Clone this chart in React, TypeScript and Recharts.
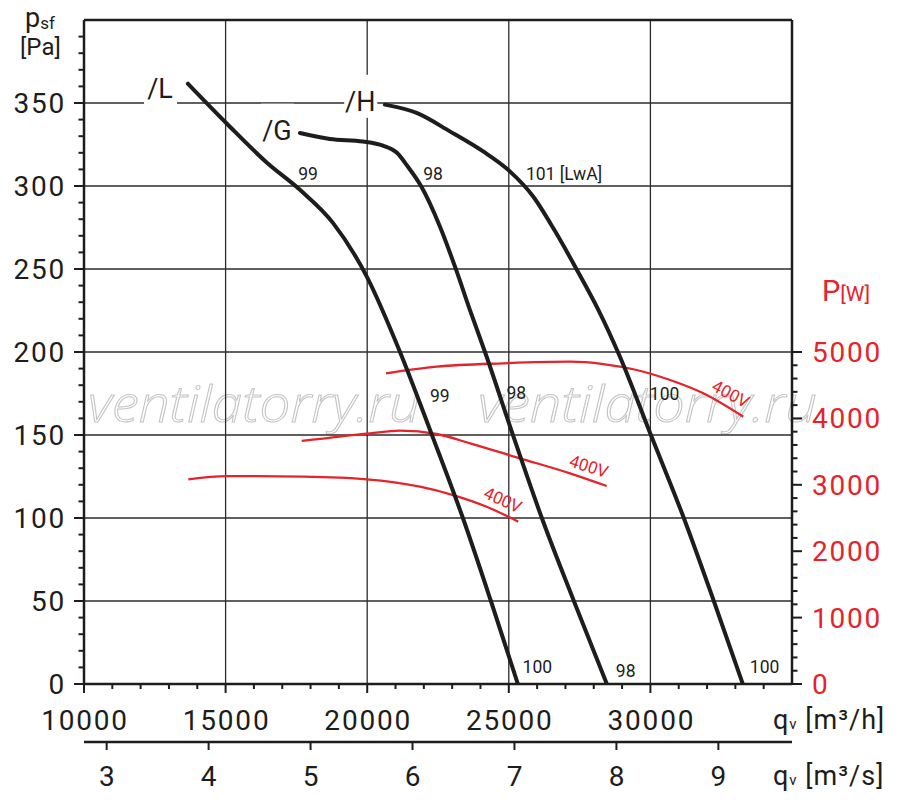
import React from 'react';
import {
  LineChart,
  Line,
  XAxis,
  YAxis,
  CartesianGrid,
  ReferenceLine,
  ReferenceDot,
} from 'recharts';

const FONT = 'Roboto, "DejaVu Sans", sans-serif';
const INK = '#1d1d1b';
const RED = '#e5232b';
const GRID = '#2b2b2b';

// fan curves, q [m3/h] -> psf [Pa]
const curveL = [
  { q: 13671, p: 361.6 },
  { q: 15048, p: 337.5 },
  { q: 16460, p: 314.0 },
  { q: 17625, p: 297.7 },
  { q: 18790, p: 277.8 },
  { q: 19990, p: 245.3 },
  { q: 21155, p: 200.2 },
  { q: 22284, p: 150.1 },
  { q: 23379, p: 100.0 },
  { q: 24368, p: 50.0 },
  { q: 25320, p: 0 },
];

const curveG = [
  { q: 17625, p: 331.9 },
  { q: 18684, p: 328.3 },
  { q: 19849, p: 326.8 },
  { q: 20555, p: 324.3 },
  { q: 21049, p: 320.0 },
  { q: 21437, p: 311.6 },
  { q: 21896, p: 300.1 },
  { q: 22567, p: 275.6 },
  { q: 23132, p: 249.9 },
  { q: 23626, p: 225.4 },
  { q: 24215, p: 197.3 },
  { q: 25144, p: 150.1 },
  { q: 26167, p: 100.0 },
  { q: 27297, p: 50.0 },
  { q: 28462, p: 0 },
];

const curveH = [
  { q: 20625, p: 349.0 },
  { q: 21744, p: 344.0 },
  { q: 22920, p: 332.9 },
  { q: 24095, p: 320.8 },
  { q: 25038, p: 308.8 },
  { q: 25860, p: 293.7 },
  { q: 26626, p: 273.0 },
  { q: 27392, p: 249.9 },
  { q: 28162, p: 225.4 },
  { q: 28921, p: 197.3 },
  { q: 30015, p: 150.1 },
  { q: 31180, p: 100.0 },
  { q: 32239, p: 50.0 },
  { q: 33263, p: 0 },
];

// input power, q [m3/h] -> P [W]
const powerL = [
  { q: 13683, w: 3083 },
  { q: 15039, w: 3132 },
  { q: 17733, w: 3122 },
  { q: 19982, w: 3083 },
  { q: 21864, w: 2971 },
  { q: 23030, w: 2846 },
  { q: 24219, w: 2670 },
  { q: 25335, w: 2444 },
];

const powerG = [
  { q: 17687, w: 3660 },
  { q: 20099, w: 3776 },
  { q: 21158, w: 3815 },
  { q: 22454, w: 3765 },
  { q: 23630, w: 3625 },
  { q: 25395, w: 3399 },
  { q: 27161, w: 3173 },
  { q: 28457, w: 2982 },
];

const powerH = [
  { q: 20664, w: 4679 },
  { q: 22454, w: 4779 },
  { q: 24806, w: 4830 },
  { q: 27161, w: 4854 },
  { q: 28337, w: 4819 },
  { q: 29516, w: 4729 },
  { q: 30695, w: 4578 },
  { q: 31868, w: 4378 },
  { q: 33280, w: 4025 },
];

// annotations (anchor in q / psf units)
const curveTags = [
  { q: 12683, p: 352.9, text: '/L' },
  { q: 16813, p: 327.9, text: '/G' },
  { q: 19754, p: 345.3, text: '/H' },
];

const soundTags = [
  { q: 17566, p: 303.8, text: '99' },
  { q: 21977, p: 303.8, text: '98' },
  { q: 25603, p: 303.8, text: '101 [LwA]' },
  { q: 22214, p: 170.0, text: '99' },
  { q: 24920, p: 171.5, text: '98' },
  { q: 29980, p: 171.2, text: '100' },
  { q: 25486, p: 6.4, text: '100' },
  { q: 28780, p: 4.4, text: '98' },
  { q: 33510, p: 6.4, text: '100' },
];

const voltTags = [
  { q: 24791, p: 110.9, text: '400V', angle: 24 },
  { q: 27827, p: 131.1, text: '400V', angle: 18 },
  { q: 32839, p: 174.8, text: '400V', angle: 28 },
];

const range = (a: number, b: number, s: number) => {
  const out: number[] = [];
  for (let v = a; v <= b; v += s) out.push(v);
  return out;
};

const pressureTicks = range(0, 390, 10);
const pressureLabels = [0, 50, 100, 150, 200, 250, 300, 350];
const flowTicks = range(10000, 34000, 1000);
const flowLabels = [10000, 15000, 20000, 25000, 30000];
const powerTicks = range(0, 5000, 200);
const powerLabels = [0, 1000, 2000, 3000, 4000, 5000];
const flowSecLabels = [3, 4, 5, 6, 7, 8, 9]; // m3/s
const flowSecTicks = flowSecLabels.map((v) => v * 3600); // same axis in m3/h
const gridPressure = [50, 100, 150, 200, 250, 300, 350];
const gridFlow = [15000, 20000, 25000, 30000];

const numStyle = { fontFamily: FONT, fontSize: 28, letterSpacing: '1.8px' };

function PressureTick(props: any) {
  const { x, y, payload } = props;
  const v = payload.value;
  const major = pressureLabels.includes(v);
  return (
    <g>
      <line x1={x - (major ? 10 : 5.5)} y1={y} x2={x} y2={y} stroke={INK} strokeWidth={2} />
      {major && (
        <text x={x - 18} y={y + 10} textAnchor="end" fill={INK} style={numStyle}>
          {v}
        </text>
      )}
    </g>
  );
}

function PowerTick(props: any) {
  const { x, y, payload } = props;
  const v = payload.value;
  const major = powerLabels.includes(v);
  return (
    <g>
      <line x1={x} y1={y} x2={x + (major ? 10 : 5.5)} y2={y} stroke={INK} strokeWidth={2} />
      {major && (
        <text x={x + 20} y={y + 10} textAnchor="start" fill={RED} style={numStyle}>
          {v}
        </text>
      )}
    </g>
  );
}

function FlowTick(props: any) {
  const { x, y, payload } = props;
  const v = payload.value;
  const major = flowLabels.includes(v);
  return (
    <g>
      <line x1={x} y1={y} x2={x} y2={y + (major ? 9 : 5)} stroke={INK} strokeWidth={2} />
      {major && (
        <text x={x + 1} y={y + 46} textAnchor="middle" fill={INK} style={numStyle}>
          {v}
        </text>
      )}
    </g>
  );
}

function FlowSecTick(props: any) {
  const { x, y, payload } = props;
  return (
    <g>
      <line x1={x} y1={y} x2={x} y2={y + 8} stroke={INK} strokeWidth={2} />
      <text x={x + 1} y={y + 44} textAnchor="middle" fill={INK} style={numStyle}>
        {Math.round(payload.value / 3600)}
      </text>
    </g>
  );
}

const center = (p: any) => {
  const vb = p.viewBox || {};
  return [vb.x + (vb.width || 0) / 2, vb.y + (vb.height || 0) / 2];
};

const curveTagLabel = (text: string) => (p: any) => {
  const [cx, cy] = center(p);
  return (
    <g>
      <rect x={cx - 16} y={cy - 36} width={33} height={43} fill="#fff" />
      <text x={cx} y={cy} textAnchor="middle" fill={INK} style={{ fontFamily: FONT, fontSize: 27 }}>
        {text}
      </text>
    </g>
  );
};

const soundTagLabel = (text: string) => (p: any) => {
  const [cx, cy] = center(p);
  return (
    <text x={cx} y={cy} textAnchor="start" fill={INK} style={{ fontFamily: FONT, fontSize: 17.5 }}>
      {text}
    </text>
  );
};

const voltTagLabel = (text: string, angle: number) => (p: any) => {
  const [cx, cy] = center(p);
  return (
    <text
      x={cx}
      y={cy}
      textAnchor="middle"
      dominantBaseline="central"
      transform={`rotate(${angle} ${cx} ${cy})`}
      fill={RED}
      style={{ fontFamily: FONT, fontSize: 17 }}
    >
      {text}
    </text>
  );
};

export default function App() {
  const wm = {
    fontFamily: '"Open Sans", sans-serif',
    fontStyle: 'italic' as const,
    fontWeight: 300,
    fontSize: 50,
  };
  return (
    <div style={{ position: 'absolute', left: 0, top: 0, width: 900, height: 808, background: '#fff' }}>
      <svg width={900} height={808} style={{ position: 'absolute', left: 0, top: 0 }}>
        <text x={88} y={422} textLength={332} lengthAdjust="spacingAndGlyphs" fill="none" stroke="#c4c4c4" strokeWidth={1} style={wm}>
          ventilatorry.ru
        </text>
        <text x={478} y={422} textLength={339} lengthAdjust="spacingAndGlyphs" fill="none" stroke="#c4c4c4" strokeWidth={1} style={wm}>
          ventilatorry.ru
        </text>

        <text x={25} y={27} fill={INK} style={{ fontFamily: FONT, fontSize: 27 }}>
          p
          <tspan dy={2} style={{ fontSize: 17 }}>sf</tspan>
        </text>
        <text x={20} y={55} fill={INK} style={{ fontFamily: FONT, fontSize: 24 }}>
          [Pa]
        </text>

        <text x={822} y={300.5} fill={RED} style={{ fontFamily: FONT, fontSize: 29 }}>
          P<tspan style={{ fontSize: 21 }}>[W]</tspan>
        </text>

        <text x={773} y={728.5} fill={INK} style={{ fontFamily: FONT, fontSize: 27, letterSpacing: '1px' }}>
          q<tspan style={{ fontSize: 15 }}>v</tspan> [m³/h]
        </text>
        <text x={773} y={785} fill={INK} style={{ fontFamily: FONT, fontSize: 27, letterSpacing: '1px' }}>
          q<tspan style={{ fontSize: 15 }}>v</tspan> [m³/s]
        </text>
      </svg>

      <div style={{ position: 'absolute', left: 0, top: 0 }}>
        <LineChart width={900} height={808} margin={{ top: 20, right: 0, bottom: 0, left: 0 }}>
          <CartesianGrid
            stroke={GRID}
            strokeWidth={1.3}
            horizontalValues={gridPressure}
            verticalValues={gridFlow}
          />
          <XAxis
            xAxisId={0}
            dataKey="q"
            type="number"
            domain={[10000, 35000]}
            allowDataOverflow
            ticks={flowTicks}
            interval={0}
            height={58}
            tickSize={0}
            tickMargin={0}
            tickLine={false}
            axisLine={{ stroke: INK, strokeWidth: 2.5 }}
            tick={<FlowTick />}
          />
          <XAxis
            xAxisId={1}
            dataKey="q"
            type="number"
            domain={[10000, 35000]}
            allowDataOverflow
            ticks={flowSecTicks}
            interval={0}
            height={66}
            tickSize={0}
            tickMargin={0}
            tickLine={false}
            axisLine={{ stroke: INK, strokeWidth: 2.5 }}
            tick={<FlowSecTick />}
          />
          <YAxis
            yAxisId={0}
            type="number"
            domain={[0, 400]}
            allowDataOverflow
            ticks={pressureTicks}
            interval={0}
            width={84}
            tickSize={0}
            tickMargin={0}
            tickLine={false}
            axisLine={{ stroke: INK, strokeWidth: 2.5 }}
            tick={<PressureTick />}
          />
          <YAxis
            yAxisId={1}
            orientation="right"
            type="number"
            domain={[0, 10000]}
            allowDataOverflow
            ticks={powerTicks}
            interval={0}
            width={108}
            tickSize={0}
            tickMargin={0}
            tickLine={false}
            axisLine={{ stroke: INK, strokeWidth: 2.5 }}
            tick={<PowerTick />}
          />
          <ReferenceLine yAxisId={0} y={400} stroke={INK} strokeWidth={2.5} />

          {[powerL, powerG, powerH].map((d, i) => (
            <Line
              key={`pw${i}`}
              xAxisId={1}
              yAxisId={1}
              data={d}
              dataKey="w"
              type="monotone"
              stroke={RED}
              strokeWidth={2.3}
              dot={false}
              activeDot={false}
              isAnimationActive={false}
            />
          ))}
          {[curveL, curveG, curveH].map((d, i) => (
            <Line
              key={`ps${i}`}
              xAxisId={0}
              yAxisId={0}
              data={d}
              dataKey="p"
              type="monotone"
              stroke={INK}
              strokeWidth={4}
              strokeLinecap="round"
              dot={false}
              activeDot={false}
              isAnimationActive={false}
            />
          ))}

          {curveTags.map((t) => (
            <ReferenceDot key={t.text} yAxisId={0} x={t.q} y={t.p} r={0} fill="none" stroke="none" ifOverflow="visible" label={curveTagLabel(t.text)} />
          ))}
          {soundTags.map((t, i) => (
            <ReferenceDot key={`s${i}`} yAxisId={0} x={t.q} y={t.p} r={0} fill="none" stroke="none" ifOverflow="visible" label={soundTagLabel(t.text)} />
          ))}
          {voltTags.map((t, i) => (
            <ReferenceDot key={`v${i}`} yAxisId={0} x={t.q} y={t.p} r={0} fill="none" stroke="none" ifOverflow="visible" label={voltTagLabel(t.text, t.angle)} />
          ))}
        </LineChart>
      </div>
    </div>
  );
}
